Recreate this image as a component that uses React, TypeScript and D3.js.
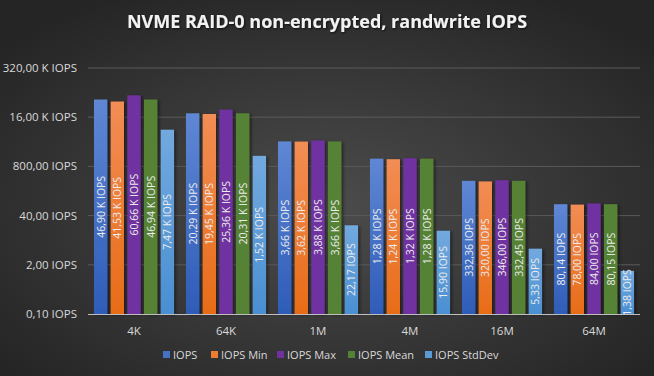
import React from "react";
import * as d3 from "d3";

const categories = ["4K", "64K", "1M", "4M", "16M", "64M"];
const seriesNames = ["IOPS", "IOPS Min", "IOPS Max", "IOPS Mean", "IOPS StdDev"];
const iops = [46900, 20290, 3660, 1280, 332.36, 80.14];
const iopsMin = [41530, 19450, 3620, 1240, 320.0, 78.0];
const iopsMax = [60660, 25360, 3880, 1320, 346.0, 84.0];
const iopsMean = [46940, 20310, 3660, 1280, 332.45, 80.15];
const iopsStd = [7470, 1520, 22.17, 15.9, 5.33, 1.38];
const tickValues = [0.1, 2, 40, 800, 16000, 320000];

const seriesValues = [iops, iopsMin, iopsMax, iopsMean, iopsStd];
const colorsTop = ["#5f87d4", "#f28d55", "#7030a0", "#548235", "#72a9de"];
const colorsBot = ["#2e5cb8", "#e86c17", "#7030a0", "#548235", "#4a8fd2"];
const legendColors = ["#4472c4", "#ed7d31", "#7030a0", "#548235", "#5b9bd5"];

const W = 654, H = 376;
const left = 88, right = 640, top = 68, bottom = 314;

function fmt(v: number) {
  if (v >= 1000) return (v / 1000).toFixed(2).replace(".", ",") + " K IOPS";
  return v.toFixed(2).replace(".", ",") + "  IOPS";
}

export default function App() {
  const y = d3.scaleLog().base(20).domain([0.1, 320000]).range([bottom, top]);
  const x0 = d3.scaleBand().domain(categories).range([left, right]).paddingInner(0.13).paddingOuter(0.065);
  const x1 = d3.scaleBand().domain(seriesNames).range([0, x0.bandwidth()]).paddingInner(0.2);
  const font = "'Open Sans', 'Noto Sans', sans-serif";
  const legendX = [163, 211, 277, 348, 425];

  return (
    <svg width={W} height={H} style={{ position: "absolute", left: 0, top: 0 }}>
      <defs>
        <radialGradient id="bg" cx="50%" cy="55%" r="65%">
          <stop offset="0%" stopColor="#4c4c4c" />
          <stop offset="100%" stopColor="#252525" />
        </radialGradient>
        {colorsTop.map((c, i) => (
          <linearGradient key={i} id={"g" + i} x1="0" y1="0" x2="0" y2="1">
            <stop offset="0%" stopColor={c} />
            <stop offset="100%" stopColor={colorsBot[i]} />
          </linearGradient>
        ))}
        <filter id="sh" x="-20%" y="-5%" width="150%" height="110%">
          <feDropShadow dx="2" dy="1" stdDeviation="1.5" floodColor="#000" floodOpacity="0.45" />
        </filter>
        <filter id="tsh">
          <feDropShadow dx="1" dy="1" stdDeviation="0.8" floodColor="#000" floodOpacity="0.7" />
        </filter>
      </defs>
      <rect x={0} y={0} width={W} height={H} fill="url(#bg)" />
      <text x={W / 2} y={28} textAnchor="middle" fill="#f2f2f2" fontFamily={font} fontWeight="bold" fontSize={18} filter="url(#tsh)">
        NVME RAID-0 non-encrypted, randwrite IOPS
      </text>
      {tickValues.map((t, i) => (
        <g key={i}>
          {i > 0 && <line x1={left} x2={right} y1={y(t)} y2={y(t)} stroke="#5a5a5a" strokeWidth={1} />}
          <text x={77} y={y(t) + 4} textAnchor="end" fill="#d9d9d9" fontFamily={font} fontSize={11.5}>
            {fmt(t)}
          </text>
        </g>
      ))}
      {categories.map((c, ci) => (
        <g key={c} transform={`translate(${x0(c)},0)`}>
          {seriesNames.map((s, si) => {
            const v = seriesValues[si][ci];
            const bx = x1(s)!;
            const by = y(v);
            const bw = x1.bandwidth();
            const cy = (by + bottom) / 2;
            return (
              <g key={s}>
                <rect x={bx} y={by} width={bw} height={bottom - by} fill={`url(#g${si})`} filter="url(#sh)" />
                <text
                  transform={`translate(${bx + bw / 2 + 4},${cy}) rotate(-90)`}
                  textAnchor="middle"
                  fill="#ececec"
                  fontFamily={font}
                  fontSize={10.5}
                >
                  {fmt(v)}
                </text>
              </g>
            );
          })}
          <text x={x0.bandwidth() / 2} y={335} textAnchor="middle" fill="#d9d9d9" fontFamily={font} fontSize={11.5}>
            {c}
          </text>
        </g>
      ))}
      <line x1={left} x2={right} y1={bottom + 0.5} y2={bottom + 0.5} stroke="#bfbfbf" strokeWidth={1} />
      {seriesNames.map((s, i) => (
        <g key={s}>
          <rect x={legendX[i]} y={351} width={7} height={7} fill={legendColors[i]} />
          <text x={legendX[i] + 10} y={358.5} fill="#d9d9d9" fontFamily={font} fontSize={11}>
            {s}
          </text>
        </g>
      ))}
    </svg>
  );
}
